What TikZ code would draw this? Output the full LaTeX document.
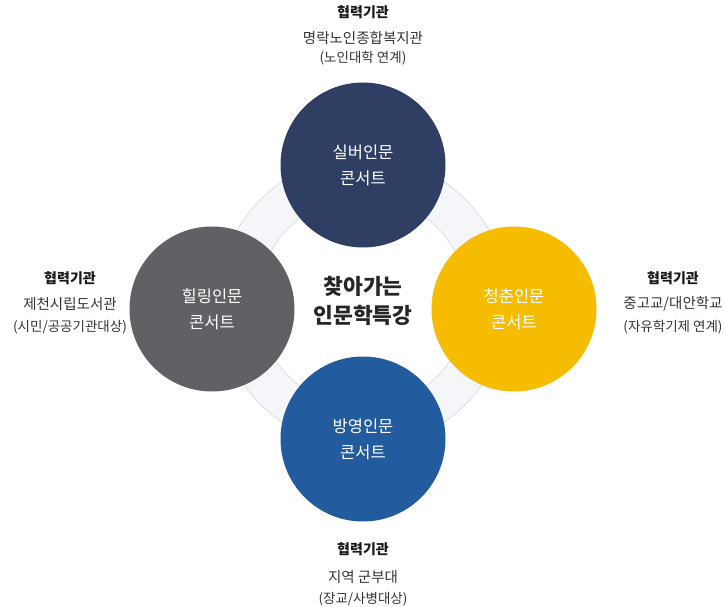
\documentclass[tikz,border=0pt]{standalone}
\usepackage{fontspec}
\setmainfont{Noto Sans CJK KR}
\begin{document}
\begin{tikzpicture}[x=1pt,y=-1pt,
  circ/.style={circle,minimum size=165pt,inner sep=0pt,text=white,font=\fontsize{16.5}{26}\selectfont,align=center},
  lbl/.style={align=center,text=black!80,font=\fontsize{14.5}{20}\selectfont},
  lbls/.style={align=center,text=black!80,font=\fontsize{13.5}{18}\selectfont},
  lblb/.style={align=center,text=black!90,font=\fontsize{14}{20}\selectfont\bfseries}]
\useasboundingbox (0,0) rectangle (726,607);
\definecolor{ringfill}{HTML}{F5F6F9}
\definecolor{ringline}{HTML}{DCDDE1}
\definecolor{ctop}{HTML}{2F3F63}
\definecolor{cleft}{HTML}{606165}
\definecolor{cright}{HTML}{F5BC00}
\definecolor{cbot}{HTML}{235C9E}
\coordinate (c) at (363,302);
\fill[ringfill,even odd rule] (c) circle (145) (c) circle (105);
\draw[ringline,line width=0.8pt] (c) circle (145) (c) circle (105);
\node[circ,fill=ctop] (top) at (363,165) {실버인문\\콘서트};
\node[circ,fill=cleft] (left) at (212,309) {힐링인문\\콘서트};
\node[circ,fill=cright] (right) at (514,309) {청춘인문\\콘서트};
\node[circ,fill=cbot] (bot) at (363,439) {방영인문\\콘서트};
\node[align=center,text=black!85,font=\fontsize{21.5}{29}\selectfont\bfseries] (center) at (363,301) {찾아가는\\인문학특강};
\node[lblb] (t1) at (363,12) {협력기관};
\node[lbl] (t2) at (363,38) {명락노인종합복지관};
\node[lbls] (t3) at (363,58) {(노인대학 연계)};
\node[lblb] (l1) at (70,278) {협력기관};
\node[lbl] (l2) at (70,304) {제천시립도서관};
\node[lbls] (l3) at (70,327) {(시민/공공기관대상)};
\node[lblb] (r1) at (673,278) {협력기관};
\node[lbl] (r2) at (673,304) {중고교/대안학교};
\node[lbls] (r3) at (673,327) {(자유학기제 연계)};
\node[lblb] (b1) at (363,549) {협력기관};
\node[lbl] (b2) at (363,577) {지역 군부대};
\node[lbls] (b3) at (363,599) {(장교/사병대상)};
\end{tikzpicture}
\end{document}
